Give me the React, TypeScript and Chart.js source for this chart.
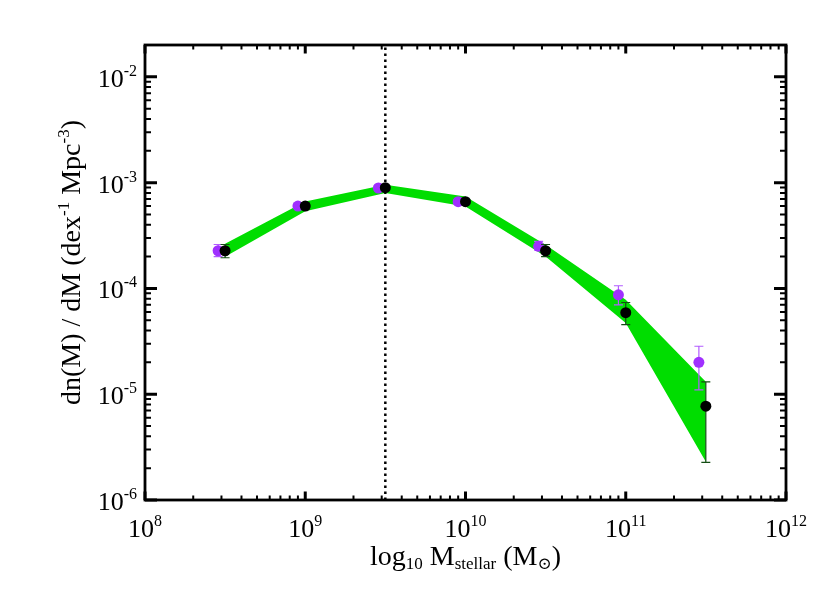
import { useEffect, useRef } from "react";
import { Chart, registerables } from "chart.js";

Chart.register(...registerables);

// ---- data ----
const blackMass = [3.16e8, 1e9, 3.16e9, 1e10, 3.16e10, 1e11, 3.16e11];
const blackPhi = [2.27e-4, 6.0e-4, 8.95e-4, 6.6e-4, 2.27e-4, 5.9e-5, 7.7e-6];
const blackLo = [1.95e-4, 5.6e-4, 8.5e-4, 6.3e-4, 2.0e-4, 4.55e-5, 2.27e-6];
const blackHi = [2.6e-4, 6.4e-4, 9.4e-4, 6.9e-4, 2.6e-4, 7.36e-5, 1.31e-5];

const purpleMass = [2.86e8, 9.0e8, 2.86e9, 9.0e9, 2.86e10, 9.0e10, 2.86e11];
const purplePhi = [2.27e-4, 6.0e-4, 8.9e-4, 6.6e-4, 2.5e-4, 8.7e-5, 2.0e-5];
const purpleLo = [2.0e-4, 5.7e-4, 8.6e-4, 6.3e-4, 2.3e-4, 7.0e-5, 1.1e-5];
const purpleHi = [2.6e-4, 6.3e-4, 9.2e-4, 6.9e-4, 2.78e-4, 1.06e-4, 2.84e-5];

const bandMass = [3.16e8, 1e9, 3.16e9, 1e10, 3.16e10, 1e11, 3.16e11];
const bandLower = [1.99e-4, 5.35e-4, 8.0e-4, 5.96e-4, 2.0e-4, 4.7e-5, 2.3e-6];
const bandUpper = [2.64e-4, 6.64e-4, 9.55e-4, 7.4e-4, 2.59e-4, 7.8e-5, 1.31e-5];

const cutMass = 3.16e9;

const xMin = 1e8;
const xMax = 1e12;
const yMin = 1e-6;
const yMax = 2e-2;
const xTickExps = [8, 9, 10, 11, 12];
const yTickExps = [-6, -5, -4, -3, -2];
const minorMults = [2, 3, 4, 5, 6, 7, 8, 9];

const xTitleParts: [string, number][] = [
  ["log", 0],
  ["10", 1],
  [" M", 0],
  ["stellar", 1],
  [" (M", 0],
  ["\u2299", 1],
  [")", 0],
];
const yTitleParts: [string, number][] = [
  ["dn(M) / dM (dex", 0],
  ["-1", 2],
  [" Mpc", 0],
  ["-3", 2],
  [")", 0],
];

const FONT = '"Liberation Serif", "DejaVu Serif", serif';
const BLACK_ERR = "#134d13";
const PURPLE_ERR = "#b25cff";
const PURPLE = "#a030ff";
const GREEN = "#00dd00";

function pts(xs: number[], ys: number[]) {
  return xs.map((x, i) => ({ x, y: ys[i] }));
}

function drawErr(chart: any, xs: number[], lo: number[], hi: number[], color: string) {
  const ctx = chart.ctx;
  const sx = chart.scales.x;
  const sy = chart.scales.y;
  ctx.save();
  ctx.strokeStyle = color;
  ctx.lineWidth = 1.2;
  xs.forEach((x, i) => {
    const px = sx.getPixelForValue(x);
    const p1 = sy.getPixelForValue(lo[i]);
    const p2 = sy.getPixelForValue(hi[i]);
    ctx.beginPath();
    ctx.moveTo(px, p1);
    ctx.lineTo(px, p2);
    ctx.moveTo(px - 4.5, p1);
    ctx.lineTo(px + 4.5, p1);
    ctx.moveTo(px - 4.5, p2);
    ctx.lineTo(px + 4.5, p2);
    ctx.stroke();
  });
  ctx.restore();
}

function partsWidth(ctx: CanvasRenderingContext2D, parts: [string, number][], main: number, small: number) {
  let w = 0;
  for (const [t, k] of parts) {
    ctx.font = `${k === 0 ? main : small}px ${FONT}`;
    w += ctx.measureText(t).width;
  }
  return w;
}

function drawParts(ctx: CanvasRenderingContext2D, parts: [string, number][], x: number, y: number, main: number, small: number) {
  let cx = x;
  for (const [t, k] of parts) {
    ctx.font = `${k === 0 ? main : small}px ${FONT}`;
    const dy = k === 1 ? 4 : k === 2 ? -11 : 0;
    ctx.fillText(t, cx, y + dy);
    cx += ctx.measureText(t).width;
  }
}

const axesPlugin = {
  id: "idlAxes",
  beforeDatasetDraw(chart: any, args: any) {
    if (args.index === 1) drawErr(chart, purpleMass, purpleLo, purpleHi, PURPLE_ERR);
    if (args.index === 0) drawErr(chart, blackMass, blackLo, blackHi, BLACK_ERR);
  },
  afterDraw(chart: any) {
    const ctx: CanvasRenderingContext2D = chart.ctx;
    const sx = chart.scales.x;
    const sy = chart.scales.y;
    const { left, right, top, bottom } = chart.chartArea;
    ctx.save();
    ctx.strokeStyle = "#000";
    ctx.fillStyle = "#000";
    ctx.lineWidth = 2.8;
    ctx.strokeRect(left, top, right - left, bottom - top);

    // x ticks
    for (const e of xTickExps) {
      const mults = [1, ...minorMults];
      for (const m of mults) {
        const v = m * Math.pow(10, e);
        if (v < xMin * 0.999 || v > xMax * 1.001) continue;
        const px = sx.getPixelForValue(v);
        const len = m === 1 ? 8.5 : 4.5;
        ctx.lineWidth = m === 1 ? 3 : 2;
        ctx.beginPath();
        ctx.moveTo(px, bottom);
        ctx.lineTo(px, bottom - len);
        ctx.moveTo(px, top);
        ctx.lineTo(px, top + len);
        ctx.stroke();
      }
    }
    // y ticks
    for (const e of yTickExps) {
      const mults = [1, ...minorMults];
      for (const m of mults) {
        const v = m * Math.pow(10, e);
        if (v < yMin * 0.999 || v > yMax * 1.001) continue;
        const py = sy.getPixelForValue(v);
        const len = m === 1 ? 12 : 6;
        ctx.lineWidth = m === 1 ? 3 : 2;
        ctx.beginPath();
        ctx.moveTo(left, py);
        ctx.lineTo(left + len, py);
        ctx.moveTo(right, py);
        ctx.lineTo(right - len, py);
        ctx.stroke();
      }
    }

    // tick labels
    ctx.textAlign = "left";
    ctx.textBaseline = "alphabetic";
    const MAIN = 26;
    const SUP = 16;
    for (const e of xTickExps) {
      const parts: [string, number][] = [["10", 0], [String(e), 2]];
      const w = partsWidth(ctx, parts, MAIN, SUP);
      const px = sx.getPixelForValue(Math.pow(10, e));
      drawParts(ctx, parts, px - w / 2, bottom + 37, MAIN, SUP);
    }
    for (const e of yTickExps) {
      const parts: [string, number][] = [["10", 0], [String(e), 2]];
      const w = partsWidth(ctx, parts, MAIN, SUP);
      const py = sy.getPixelForValue(Math.pow(10, e));
      drawParts(ctx, parts, left - 8 - w, py + 10, MAIN, SUP);
    }

    // axis titles
    const TMAIN = 28;
    const TSUB = 17;
    const xw = partsWidth(ctx, xTitleParts, TMAIN, TSUB);
    drawParts(ctx, xTitleParts, (left + right) / 2 - xw / 2, bottom + 65, TMAIN, TSUB);

    const yw = partsWidth(ctx, yTitleParts, TMAIN, TSUB);
    ctx.translate(80, (top + bottom) / 2 - 10);
    ctx.rotate(-Math.PI / 2);
    drawParts(ctx, yTitleParts, -yw / 2, 0, TMAIN, TSUB);
    ctx.restore();
  },
};

export default function App() {
  const ref = useRef<HTMLCanvasElement | null>(null);
  useEffect(() => {
    if (!ref.current) return;
    const chart = new Chart(ref.current, {
      type: "scatter",
      data: {
        datasets: [
          {
            type: "scatter",
            data: pts(blackMass, blackPhi),
            backgroundColor: "#000",
            borderColor: "#000",
            pointRadius: 5.5,
            borderWidth: 0,
          },
          {
            type: "scatter",
            data: pts(purpleMass, purplePhi),
            backgroundColor: PURPLE,
            borderColor: PURPLE,
            pointRadius: 5.5,
            borderWidth: 0,
          },
          {
            type: "line",
            data: pts(bandMass, bandUpper),
            borderWidth: 0,
            borderColor: GREEN,
            backgroundColor: GREEN,
            pointRadius: 0,
            fill: 3,
            tension: 0,
          },
          {
            type: "line",
            data: pts(bandMass, bandLower),
            borderWidth: 0,
            borderColor: GREEN,
            backgroundColor: GREEN,
            pointRadius: 0,
            fill: false,
            tension: 0,
          },
          {
            type: "line",
            data: [
              { x: cutMass, y: yMin },
              { x: cutMass, y: yMax },
            ],
            borderColor: "#000",
            borderWidth: 2.5,
            borderDash: [2.5, 3.5],
            pointRadius: 0,
            fill: false,
          },
        ],
      } as any,
      options: {
        animation: false,
        responsive: true,
        maintainAspectRatio: false,
        layout: { padding: { left: 145, right: 44, top: 45, bottom: 93 } },
        plugins: {
          legend: { display: false },
          tooltip: { enabled: false },
          title: { display: false },
        },
        events: [],
        scales: {
          x: { type: "logarithmic", min: xMin, max: xMax, display: false },
          y: { type: "logarithmic", min: yMin, max: yMax, display: false },
        },
      },
      plugins: [axesPlugin],
    });
    return () => chart.destroy();
  }, []);
  return (
    <div style={{ position: "fixed", left: 0, top: 0, width: 830, height: 593, background: "#fff" }}>
      <canvas ref={ref} />
    </div>
  );
}
